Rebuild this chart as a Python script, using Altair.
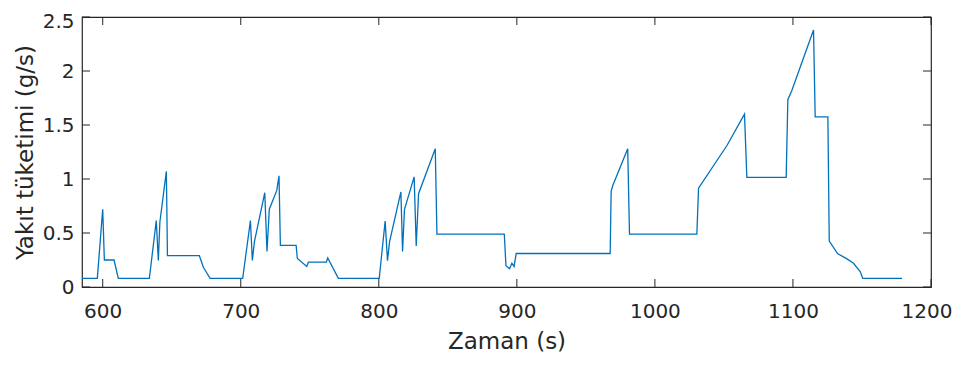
import altair as alt
import pandas as pd

# Time (s) and fuel consumption (g/s)
time_s = [585, 596.1, 600, 601.2, 608.2, 611.3, 633.8, 638.8, 640.3, 641.4,
          646.1, 646.9, 670, 673, 677.8, 701.4, 707, 708.4, 709.9, 717.4,
          719, 720.7, 726.1, 727.7, 728.7, 740.1, 741, 747.8, 749, 762,
          763, 770.7, 800.3, 804.6, 806.3, 807.8, 816, 817.2, 818.6, 825.6,
          827.1, 828.8, 840.9, 842.1, 890.9, 892.1, 894.7, 896.4, 898, 899.5,
          967.6, 968.3, 969.5, 980.3, 981.6, 1030.4, 1031.6, 1052.2, 1064.9, 1066.6,
          1095.1, 1096.3, 1099.2, 1114.9, 1116.1, 1125.3, 1126.3, 1132.3, 1139.1, 1143.9,
          1148.8, 1150.5, 1179]
fuel_gs = [0.08, 0.08, 0.72, 0.25, 0.25, 0.08, 0.08, 0.615, 0.245, 0.6,
           1.07, 0.29, 0.29, 0.18, 0.08, 0.08, 0.615, 0.245, 0.42, 0.873,
           0.33, 0.72, 0.894, 1.03, 0.385, 0.385, 0.264, 0.19, 0.23, 0.23,
           0.27, 0.08, 0.08, 0.61, 0.243, 0.42, 0.88, 0.33, 0.72, 1.02,
           0.38, 0.864, 1.28, 0.49, 0.49, 0.197, 0.17, 0.22, 0.19, 0.31,
           0.31, 0.885, 0.94, 1.28, 0.49, 0.49, 0.915, 1.31, 1.6, 1.015,
           1.015, 1.734, 1.82, 2.38, 1.576, 1.576, 0.425, 0.31, 0.26, 0.22,
           0.14, 0.08, 0.08]

x_ticks = [600, 700, 800, 900, 1000, 1100, 1200]
y_ticks = [0, 0.5, 1, 1.5, 2, 2.5]

x_domain = [585, 1200]
y_domain = [0, 2.5]

W, H = 849, 270
TICK = 8
TXT = "#262626"
FONT = "DejaVu Sans"

df = pd.DataFrame({"t": time_s, "f": fuel_gs})
xt = pd.DataFrame({"t": x_ticks})
yt = pd.DataFrame({"f": y_ticks})

xs = alt.Scale(domain=x_domain, nice=False, zero=False)
ys = alt.Scale(domain=y_domain, nice=False)

x_axis = alt.Axis(values=x_ticks, format="d", grid=False, ticks=False, domain=False,
                  labelFontSize=20, labelPadding=14, labelColor=TXT, labelFont=FONT,
                  titleFontSize=23, titleFontWeight="normal", titleColor=TXT, titleFont=FONT,
                  titlePadding=9, labelFlush=1, labelFlushOffset=21)
y_axis = alt.Axis(values=y_ticks, format="~g", grid=False, ticks=False, domain=False,
                  labelFontSize=20, labelPadding=8, labelColor=TXT, labelFont=FONT,
                  labelOffset={"condition": {"test": "datum.value >= 2.5", "value": 4}, "value": 0},
                  titleFontSize=23, titleFontWeight="normal", titleColor=TXT, titleFont=FONT,
                  titlePadding=5, labelFlush=False)

X = alt.X("t:Q", scale=xs, title="Zaman (s)", axis=x_axis)
Y = alt.Y("f:Q", scale=ys, title="Yakıt tüketimi (g/s)", axis=y_axis)

line = alt.Chart(df).mark_line(color="#0072BD", strokeWidth=1.3).encode(x=X, y=Y)

tick_color = "#262626"
xb = alt.Chart(xt).mark_rule(color=tick_color, strokeWidth=1).encode(
    x=X, y=alt.value(H), y2=alt.value(H - TICK))
xtop = alt.Chart(xt).mark_rule(color=tick_color, strokeWidth=1).encode(
    x=X, y=alt.value(0), y2=alt.value(TICK))
yl = alt.Chart(yt).mark_rule(color=tick_color, strokeWidth=1).encode(
    y=Y, x=alt.value(0), x2=alt.value(TICK))
yr = alt.Chart(yt).mark_rule(color=tick_color, strokeWidth=1).encode(
    y=Y, x=alt.value(W), x2=alt.value(W - TICK))

chart = alt.layer(line, xb, xtop, yl, yr).properties(
    width=W, height=H,
    autosize=alt.AutoSizeParams(type="none"),
    padding={"left": 74, "top": 9, "right": 22, "bottom": 70},
    background="white",
).configure_view(stroke="#262626", strokeWidth=1.2)

chart.save("out.html", embed_options={"renderer": "svg", "actions": False})
